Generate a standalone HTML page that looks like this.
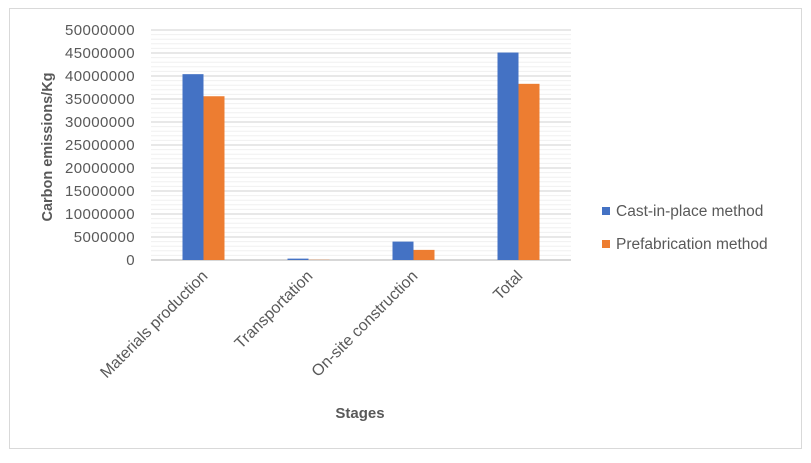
<!DOCTYPE html>
<html><head><meta charset="utf-8"><style>
body{margin:0;background:#fff;}
svg{display:block;font-family:"Liberation Sans",sans-serif;}
</style></head><body>
<svg id="chart" width="811" height="463">
<rect x="9.5" y="8.5" width="792" height="440" fill="#fff" stroke="#d9d9d9"/>
<g id="grid"></g><g id="bars"></g><g id="yticks"></g><g id="xticks"></g>
<text x="52" y="147" transform="rotate(-90 52 147)" text-anchor="middle" font-size="14.5" font-weight="bold" fill="#595959">Carbon emissions/Kg</text>
<text x="360" y="418" text-anchor="middle" font-size="15" font-weight="bold" fill="#595959">Stages</text>
<g>
<rect x="602" y="207" width="8" height="8" fill="#4472c4"/>
<text x="616" y="216" font-size="15.5" fill="#595959">Cast-in-place method</text>
<rect x="602" y="240" width="8" height="8" fill="#ed7d31"/>
<text x="616" y="249" font-size="15.5" fill="#595959">Prefabrication method</text>
</g>
</svg>
<script>
const categories=["Materials production","Transportation","On-site construction","Total"];
const castValues=[40400000,300000,4000000,45100000];
const prefabValues=[35600000,50000,2200000,38300000];
const yTicks=[0,5000000,10000000,15000000,20000000,25000000,30000000,35000000,40000000,45000000,50000000];
const NS="http://www.w3.org/2000/svg";
const X0=151,X1=571,Y0=260,Y1=30,YMAX=50000000;
const y=v=>Y0-(v/YMAX)*(Y0-Y1);
const band=(X1-X0)/categories.length;
const xc=i=>X0+band*(i+0.5);
function mk(t,a,p){const e=document.createElementNS(NS,t);for(const k in a)e.setAttribute(k,a[k]);p.appendChild(e);return e;}
const grid=document.getElementById('grid');
for(let v=0;v<=YMAX;v+=1000000){
 const major=v%5000000===0;
 const l=mk('line',{x1:X0,x2:X1,y1:y(v),y2:y(v),stroke:major?(v===0?'#bfbfbf':'#d9d9d9'):'#f0f0f0','stroke-width':major?1.2:1},grid);
 
 
}
const yt=document.getElementById('yticks');
yTicks.forEach(v=>{const t=mk('text',{x:135,y:y(v)+5,'text-anchor':'end','font-size':15,'letter-spacing':'0.4',fill:'#595959'},yt);t.textContent=String(v);
 
 });
const bars=document.getElementById('bars');const bw=21;
categories.forEach((c,i)=>{
 const b1=mk('rect',{x:xc(i)-bw,y:y(castValues[i]),width:bw,height:Y0-y(castValues[i]),fill:'#4472c4'},bars);
 
 
 const b2=mk('rect',{x:xc(i),y:y(prefabValues[i]),width:bw,height:Y0-y(prefabValues[i]),fill:'#ed7d31'},bars);
 
 
 const tx=xc(i)+5,ty=277;
 const t=mk('text',{x:tx,y:ty,'text-anchor':'end','font-size':16,fill:'#595959',transform:`rotate(-45 ${tx} ${ty})`},document.getElementById('xticks'));
 t.textContent=c;
 
 
});
</script>
</body></html>
